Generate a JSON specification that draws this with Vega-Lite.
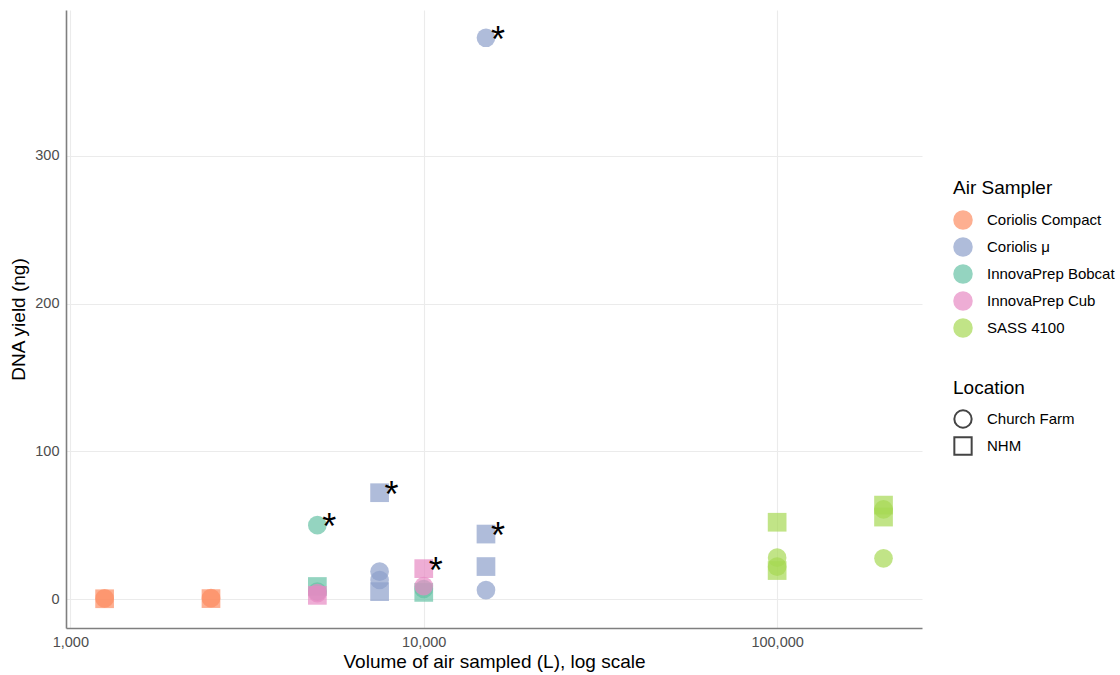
{
  "$schema": "https://vega.github.io/schema/vega-lite/v6.json",
  "autosize": {"type": "none"},
  "padding": {"left": 66, "top": 10, "right": 198, "bottom": 47},
  "width": 856,
  "height": 618,
  "background": "white",
  "config": {
    "font": "Liberation Sans",
    "view": {"stroke": null},
    "axis": {
      "grid": true,
      "gridColor": "#ebebeb",
      "gridWidth": 1.1,
      "ticks": false,
      "domain": true,
      "domainColor": "#7f7f7f",
      "domainWidth": 1.6,
      "labelFont": "Liberation Sans",
      "labelFontSize": 14.5,
      "labelColor": "#4d4d4d",
      "labelPadding": 7,
      "titleFont": "Liberation Sans",
      "titleFontSize": 19,
      "titleFontWeight": "normal",
      "titleColor": "#000000"
    },
    "legend": {
      "titleFont": "Liberation Sans",
      "titleFontSize": 19,
      "titleFontWeight": "normal",
      "titleColor": "#000000",
      "labelFont": "Liberation Sans",
      "labelFontSize": 15,
      "labelColor": "#000000"
    }
  },
  "data": {
    "values": [
      {"sampler": "Coriolis Compact", "location": "Church Farm", "volume": 1250, "yield": 0.4, "sig": false},
      {"sampler": "Coriolis Compact", "location": "NHM", "volume": 1250, "yield": 0.2, "sig": false},
      {"sampler": "Coriolis Compact", "location": "Church Farm", "volume": 2500, "yield": 0.6, "sig": false},
      {"sampler": "Coriolis Compact", "location": "NHM", "volume": 2500, "yield": 0.3, "sig": false},
      {"sampler": "Coriolis μ", "location": "Church Farm", "volume": 7500, "yield": 18.6, "sig": false},
      {"sampler": "Coriolis μ", "location": "Church Farm", "volume": 7500, "yield": 12.9, "sig": false},
      {"sampler": "Coriolis μ", "location": "NHM", "volume": 7500, "yield": 72, "sig": true},
      {"sampler": "Coriolis μ", "location": "NHM", "volume": 7500, "yield": 5, "sig": false},
      {"sampler": "Coriolis μ", "location": "Church Farm", "volume": 15000, "yield": 380, "sig": true},
      {"sampler": "Coriolis μ", "location": "Church Farm", "volume": 15000, "yield": 6.1, "sig": false},
      {"sampler": "Coriolis μ", "location": "NHM", "volume": 15000, "yield": 44, "sig": true},
      {"sampler": "Coriolis μ", "location": "NHM", "volume": 15000, "yield": 22, "sig": false},
      {"sampler": "InnovaPrep Bobcat", "location": "Church Farm", "volume": 5000, "yield": 50, "sig": true},
      {"sampler": "InnovaPrep Bobcat", "location": "Church Farm", "volume": 5000, "yield": 5, "sig": false},
      {"sampler": "InnovaPrep Bobcat", "location": "NHM", "volume": 5000, "yield": 8.5, "sig": false},
      {"sampler": "InnovaPrep Bobcat", "location": "Church Farm", "volume": 10000, "yield": 6.8, "sig": false},
      {"sampler": "InnovaPrep Bobcat", "location": "NHM", "volume": 10000, "yield": 4.5, "sig": false},
      {"sampler": "InnovaPrep Cub", "location": "Church Farm", "volume": 5000, "yield": 4, "sig": false},
      {"sampler": "InnovaPrep Cub", "location": "NHM", "volume": 5000, "yield": 2.5, "sig": false},
      {"sampler": "InnovaPrep Cub", "location": "Church Farm", "volume": 10000, "yield": 8.8, "sig": false},
      {"sampler": "InnovaPrep Cub", "location": "NHM", "volume": 10000, "yield": 20.6, "sig": true},
      {"sampler": "SASS 4100", "location": "Church Farm", "volume": 100000, "yield": 28, "sig": false},
      {"sampler": "SASS 4100", "location": "Church Farm", "volume": 100000, "yield": 21.9, "sig": false},
      {"sampler": "SASS 4100", "location": "NHM", "volume": 100000, "yield": 52, "sig": false},
      {"sampler": "SASS 4100", "location": "NHM", "volume": 100000, "yield": 19.3, "sig": false},
      {"sampler": "SASS 4100", "location": "Church Farm", "volume": 200000, "yield": 60.7, "sig": false},
      {"sampler": "SASS 4100", "location": "Church Farm", "volume": 200000, "yield": 27.6, "sig": false},
      {"sampler": "SASS 4100", "location": "NHM", "volume": 200000, "yield": 63.6, "sig": false},
      {"sampler": "SASS 4100", "location": "NHM", "volume": 200000, "yield": 55.5, "sig": false}
    ]
  },
  "encoding": {
    "x": {
      "field": "volume",
      "type": "quantitative",
      "scale": {"type": "log", "domain": [972, 257000], "nice": false},
      "axis": {
        "title": "Volume of air sampled (L), log scale",
        "values": [1000, 10000, 100000],
        "format": ",",
        "titleX": 428,
        "titleY": 33,
        "titleBaseline": "middle"
      }
    },
    "y": {
      "field": "yield",
      "type": "quantitative",
      "scale": {"domain": [-19.6, 398.8], "nice": false, "zero": false},
      "axis": {
        "title": "DNA yield (ng)",
        "values": [0, 100, 200, 300],
        "titleX": -48,
        "titleY": 309,
        "titleAngle": -90,
        "titleBaseline": "middle"
      }
    }
  },
  "layer": [
    {
      "mark": {"type": "point", "filled": true, "opacity": 0.7, "size": 350},
      "encoding": {
        "color": {
          "field": "sampler",
          "type": "nominal",
          "title": "Air Sampler",
          "scale": {
            "domain": ["Coriolis Compact", "Coriolis μ", "InnovaPrep Bobcat", "InnovaPrep Cub", "SASS 4100"],
            "range": ["#FC8D62", "#8DA0CB", "#66C2A5", "#E78AC3", "#A6D854"]
          },
          "legend": {
            "orient": "none",
            "legendX": 887,
            "legendY": 169,
            "symbolType": "circle",
            "symbolSize": 380,
            "symbolOpacity": 0.7,
            "symbolStrokeWidth": 0,
            "labelOffset": 14,
            "rowPadding": 7,
            "titlePadding": 12
          }
        },
        "shape": {
          "field": "location",
          "type": "nominal",
          "title": "Location",
          "scale": {"domain": ["Church Farm", "NHM"], "range": ["circle", "square"]},
          "legend": {
            "orient": "none",
            "legendX": 887,
            "legendY": 369,
            "symbolSize": 300,
            "symbolFillColor": "transparent",
            "symbolStrokeColor": "#444444",
            "symbolStrokeWidth": 2,
            "symbolOpacity": 1,
            "labelOffset": 14,
            "rowPadding": 1,
            "titlePadding": 11
          }
        }
      }
    },
    {
      "transform": [{"filter": "datum.sig"}],
      "mark": {"type": "text", "text": "*", "fontSize": 36, "dx": 12, "dy": 3, "baseline": "middle", "align": "center", "color": "#000000", "font": "Liberation Sans"}
    }
  ]
}
